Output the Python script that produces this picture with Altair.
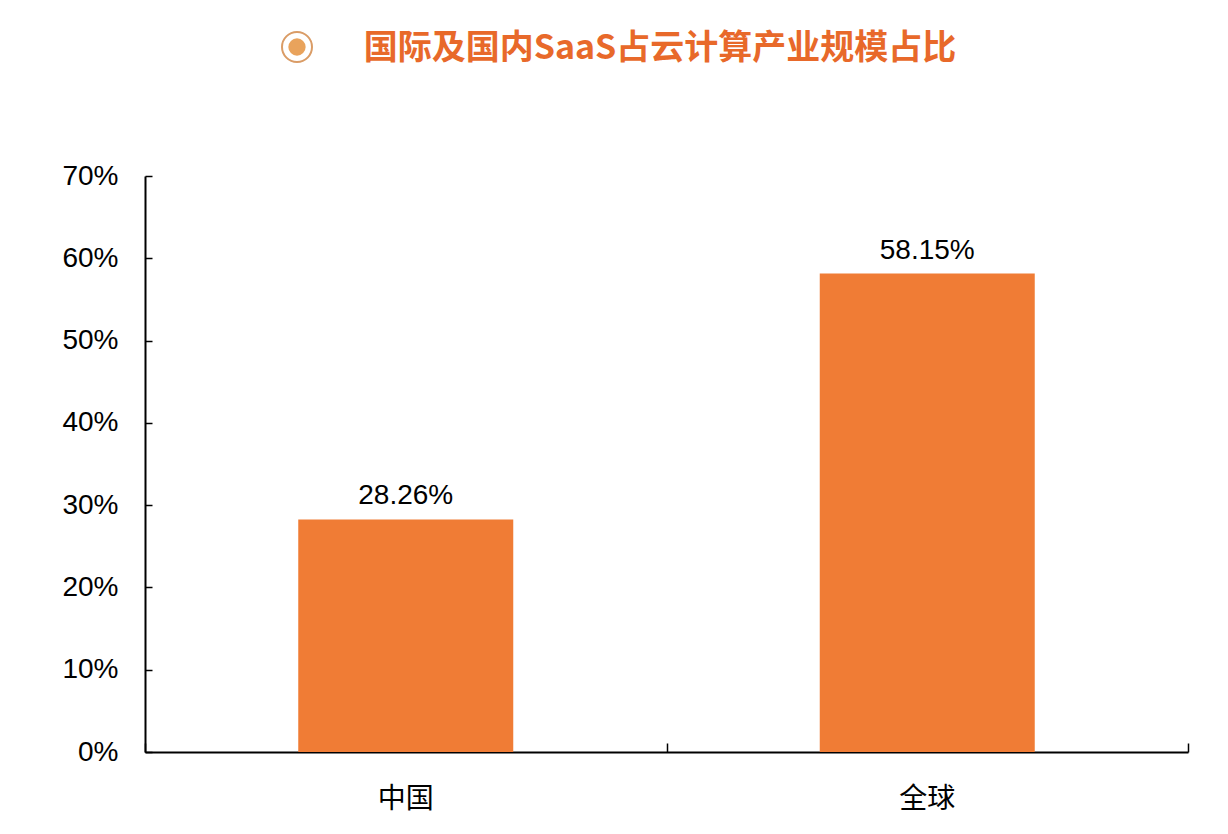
import pandas as pd
import altair as alt

# data
regions = ["中国", "全球"]
shares = [28.26, 58.15]
y_ticks = [0, 10, 20, 30, 40, 50, 60, 70]
title_text = "国际及国内SaaS占云计算产业规模占比"

dat = pd.DataFrame({"region": regions, "share": shares})
dat["label"] = [f"{v:.2f}%" for v in shares]

W, H = 1043, 576

base = alt.Chart(dat)

# bars carry the visible axes (labels + domain line)
bars = base.mark_bar(color="#F07C35", width=215).encode(
    x=alt.X("region:N", sort=regions, title=None,
            scale=alt.Scale(paddingInner=0, paddingOuter=0),
            axis=alt.Axis(labelAngle=0, ticks=False, domainColor="#000000",
                          domainWidth=2, labelFontSize=28, labelPadding=33,
                          labelFont="Noto Sans CJK SC", labelColor="#000000")),
    y=alt.Y("share:Q", title=None,
            scale=alt.Scale(domain=[0, 70], nice=False),
            axis=alt.Axis(values=y_ticks, labelExpr="datum.value + '%'",
                          ticks=False, grid=False, domainColor="#000000",
                          domainWidth=2, labelFontSize=28, labelPadding=27,
                          labelFont="Liberation Sans", labelColor="#000000")),
)

# value labels; its axes only draw the inward pointing ticks
labels = base.mark_text(baseline="alphabetic", dy=-15, fontSize=28,
                        font="Liberation Sans", color="#000000").encode(
    x=alt.X("region:N", sort=regions, title=None,
            axis=alt.Axis(orient="top", offset=-H, labels=False, domain=False,
                          tickBand="extent", tickSize=9, tickWidth=1.5,
                          tickColor="#000000")),
    y=alt.Y("share:Q", title=None,
            axis=alt.Axis(orient="right", offset=-W, labels=False, domain=False,
                          values=y_ticks, grid=False, tickSize=7, tickWidth=1.5,
                          tickColor="#000000")),
    text="label:N",
)

# title with its bullet, placed above the plot
one = alt.Chart(pd.DataFrame({"title": [title_text]}))
ring = one.mark_point(shape="circle", filled=False, size=900, strokeWidth=2,
                      color="#DA9C66", opacity=1).encode(
    x=alt.value(152), y=alt.value(-129))
dot = one.mark_point(shape="circle", filled=True, size=300,
                     color="#E9A35C", opacity=1).encode(
    x=alt.value(152), y=alt.value(-129))
title = one.mark_text(fontSize=34, font="Noto Sans CJK SC", fontWeight="bold",
                      color="#E8692A", align="center", baseline="middle").encode(
    x=alt.value(515), y=alt.value(-127), text="title:N")

chart = (alt.layer(bars, labels, ring, dot, title)
         .resolve_axis(x="independent", y="independent")
         .properties(width=W, height=H,
                     autosize=alt.AutoSizeParams(type="none"),
                     padding={"left": 137, "top": 168, "right": 30, "bottom": 70},
                     background="white")
         .configure_view(stroke=None))

chart.save("out.html", embed_options={"renderer": "svg", "actions": False})
